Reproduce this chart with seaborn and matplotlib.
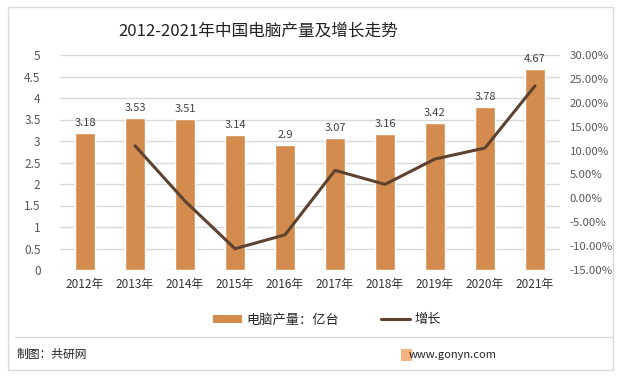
import matplotlib
matplotlib.use("Agg")
import matplotlib.pyplot as plt
import seaborn as sns
import numpy as np
import pandas as pd
from matplotlib.lines import Line2D
from matplotlib.patches import Patch, Rectangle

sns.set_theme(style="white")
plt.rcParams['font.family'] = ['Noto Sans CJK SC', 'DejaVu Sans']

years = ["2012年", "2013年", "2014年", "2015年", "2016年", "2017年", "2018年", "2019年", "2020年", "2021年"]
output = [3.18, 3.53, 3.51, 3.14, 2.9, 3.07, 3.16, 3.42, 3.78, 4.67]
growth_years = ["2013年", "2014年", "2015年", "2016年", "2017年", "2018年", "2019年", "2020年", "2021年"]
growth = [11.01, -0.57, -10.54, -7.64, 5.86, 2.93, 8.23, 10.53, 23.54]
left_ticks = [0, 0.5, 1, 1.5, 2, 2.5, 3, 3.5, 4, 4.5, 5]
right_ticks = [-15, -10, -5, 0, 5, 10, 15, 20, 25, 30]

bar_color = "#D48C4E"
line_color = "#5E4230"
tick_color = "#595959"

W, H = 620, 377
fig = plt.figure(figsize=(W / 100, H / 100), dpi=100)
fig.patch.set_facecolor("white")

# outer frame
fig.add_artist(Rectangle((8 / W, 1 - 370 / H), 605 / W, 363 / H, transform=fig.transFigure,
                         fill=False, edgecolor="#D9D9D9", linewidth=1))
fig.add_artist(Line2D([15 / W, 613 / W], [1 - 337 / H, 1 - 337 / H], transform=fig.transFigure,
                      color="#D9D9D9", linewidth=1))

ax = fig.add_axes([60 / W, 1 - 270 / H, 500 / W, 215 / H])
df = pd.DataFrame({"year": years, "output": output})
sns.barplot(data=df, x="year", y="output", color=bar_color, width=0.4, saturation=1, ax=ax, zorder=2)
ax.set_xlim(-0.5, len(years) - 0.5)
ax.set_ylim(0, 5)
ax.set_yticks(left_ticks)
ax.set_yticklabels([f"{t:g}" for t in left_ticks])
ax.yaxis.grid(True, color="#D9D9D9", linewidth=1)
ax.set_axisbelow(True)
for s in ax.spines.values():
    s.set_visible(False)
ax.set_xlabel("")
ax.set_ylabel("")
ax.tick_params(axis="y", length=0, labelsize=8.5, colors=tick_color, pad=14)
ax.tick_params(axis="x", length=0, labelsize=8.5, colors="#333333", pad=6)
for i, v in enumerate(output):
    ax.text(i, v + 0.12, f"{v:g}", ha="center", va="bottom", fontsize=8, color="#404040")

ax2 = ax.twinx()
gx = [years.index(y) for y in growth_years]
gdf = pd.DataFrame({"x": gx, "growth": growth})
sns.lineplot(data=gdf, x="x", y="growth", color=line_color, linewidth=2.2, ax=ax2, zorder=3)
ax2.set_ylim(-15, 30)
ax2.set_yticks(right_ticks)
ax2.set_yticklabels([f"{t:.2f}%" for t in right_ticks])
ax2.tick_params(axis="y", length=0, labelsize=8.2, colors=tick_color, pad=7)
for s in ax2.spines.values():
    s.set_visible(False)
ax2.set_ylabel("")
ax2.set_xlabel("")
ax2.grid(False)

fig.text(258 / W, 1 - 31 / H, "2012-2021年中国电脑产量及增长走势", ha="center", va="center",
         fontsize=12, color="#222222")

handles = [Patch(facecolor=bar_color, edgecolor="none"),
           Line2D([0], [0], color=line_color, linewidth=2.2)]
fig.legend(handles, ["电脑产量：亿台", "增长"], loc="center", bbox_to_anchor=(327 / W, 1 - 320 / H),
           ncol=2, frameon=False, fontsize=9.5, handlelength=2.2, handleheight=0.6,
           columnspacing=3.2, handletextpad=0.3)

fig.text(17 / W, 1 - 354 / H, "制图：共研网", ha="left", va="center", fontsize=8.5, color="#222222")
fig.text(497 / W, 1 - 355 / H, "www.gonyn.com", ha="right", va="center", fontsize=8, color="#222222")
fig.add_artist(Rectangle((401 / W, 1 - 361 / H), 11 / W, 12 / H, transform=fig.transFigure,
                         facecolor="#F0A060", edgecolor="none", alpha=0.8))

fig.savefig("out.png", dpi=100)
